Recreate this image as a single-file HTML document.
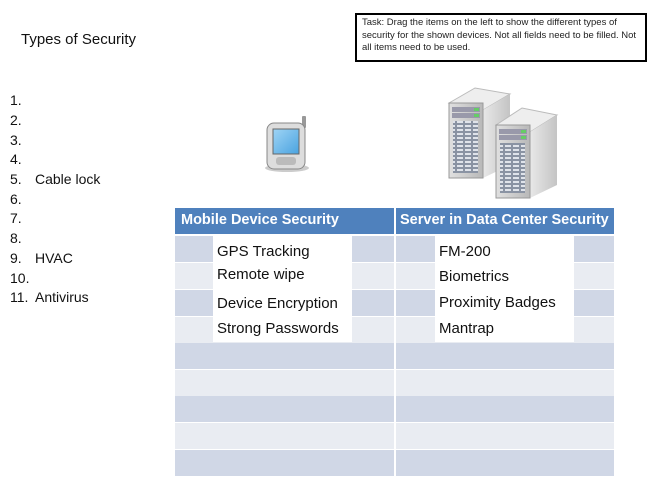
<!DOCTYPE html>
<html><head><meta charset="utf-8"><style>
body{margin:0;width:656px;height:492px;background:#fff;position:relative;overflow:hidden;font-family:"Liberation Sans",sans-serif}
.a{position:absolute}
.c{font-family:"Liberation Sans",sans-serif;color:#111}
.li{position:absolute;left:10px;font-size:14px;line-height:16px;color:#111}
.li span{position:absolute;left:25px;white-space:nowrap}
.r{position:absolute;height:26px}
.d{background:#d0d7e6}.l{background:#e9ecf2}
.t{position:absolute;font-size:15px;color:#111;white-space:nowrap;line-height:20px}
</style></head><body>
<div class="a c" style="left:21px;top:31px;font-size:15px">Types of Security</div>
<div class="li" style="top:92px">1.</div>
<div class="li" style="top:112px">2.</div>
<div class="li" style="top:132px">3.</div>
<div class="li" style="top:151px">4.</div>
<div class="li" style="top:171px">5.<span>Cable lock</span></div>
<div class="li" style="top:191px">6.</div>
<div class="li" style="top:210px">7.</div>
<div class="li" style="top:230px">8.</div>
<div class="li" style="top:250px">9.<span>HVAC</span></div>
<div class="li" style="top:270px">10.</div>
<div class="li" style="top:289px">11.<span>Antivirus</span></div>

<div class="a" style="left:355px;top:13px;width:281px;height:43px;border:2px solid #000;font-size:9.5px;line-height:12.5px;padding:2px 2px 0 5px;color:#222">Task: Drag the items on the left to show the different types of security for the shown devices. Not all fields need to be filled. Not all items need to be used.</div>

<svg class="a" style="left:0;top:0" width="656" height="492">
<defs><linearGradient id="sc" x1="0" y1="0" x2="1" y2="1"><stop offset="0" stop-color="#9fd4f5"/><stop offset="1" stop-color="#4aa3e0"/></linearGradient>
<linearGradient id="sf" x1="0" x2="1"><stop offset="0" stop-color="#e0e0e0"/><stop offset="1" stop-color="#b8b8b8"/></linearGradient>
<linearGradient id="ss" x1="0" x2="1"><stop offset="0" stop-color="#e8e8e8"/><stop offset="1" stop-color="#c4c4c4"/></linearGradient>
<pattern id="grid" width="8" height="4" patternUnits="userSpaceOnUse"><rect width="8" height="4" fill="#8a93a3"/><rect x="1" y="1" width="6" height="2" fill="#dfe3ea"/></pattern></defs>
<ellipse cx="287" cy="168" rx="22" ry="4" fill="#ccc"/>
<rect x="302" y="116" width="4" height="12" rx="1" fill="#999"/>
<rect x="267" y="123" width="38" height="46" rx="7" fill="#ddd" stroke="#888"/>
<rect x="273" y="129" width="26" height="25" fill="url(#sc)" stroke="#666"/>
<rect x="276" y="157" width="20" height="8" rx="3" fill="#bbb"/>
<!-- server 1 -->
<polygon points="449,103 475,88 510,94 483,110" fill="#eee" stroke="#bbb"/>
<polygon points="483,110 510,94 510,165 483,178" fill="url(#ss)"/>
<rect x="449" y="103" width="34" height="75" fill="url(#sf)" stroke="#999"/>
<rect x="452" y="107" width="28" height="5" fill="#99a"/><rect x="452" y="113" width="28" height="5" fill="#99a"/>
<rect x="474" y="108" width="5" height="3" fill="#6c6"/><rect x="474" y="114" width="5" height="3" fill="#6c6"/>
<rect x="453" y="121" width="25" height="52" fill="url(#grid)"/>
<!-- server 2 -->
<polygon points="496,125 522,108 557,115 530,132" fill="#eee" stroke="#bbb"/>
<polygon points="530,132 557,115 557,185 530,198" fill="url(#ss)"/>
<rect x="496" y="125" width="34" height="73" fill="url(#sf)" stroke="#999"/>
<rect x="499" y="129" width="28" height="5" fill="#99a"/><rect x="499" y="135" width="28" height="5" fill="#99a"/>
<rect x="521" y="130" width="5" height="3" fill="#6c6"/><rect x="521" y="136" width="5" height="3" fill="#6c6"/>
<rect x="500" y="143" width="25" height="50" fill="url(#grid)"/>
</svg>

<div class="a" style="left:175px;top:208px;width:219px;height:26px;background:#4f81bd"></div>
<div class="a" style="left:396px;top:208px;width:218px;height:26px;background:#4f81bd"></div>
<div class="a" style="left:181px;top:212px;color:#fff;font-weight:bold;font-size:14.5px">Mobile Device Security</div>
<div class="a" style="left:400px;top:212px;color:#fff;font-weight:bold;font-size:14.5px;white-space:nowrap">Server in Data Center Security</div>

<div class="r d" style="left:175px;top:236px;width:219px"></div><div class="r d" style="left:396px;top:236px;width:218px"></div>
<div class="r l" style="left:175px;top:263px;width:219px"></div><div class="r l" style="left:396px;top:263px;width:218px"></div>
<div class="r d" style="left:175px;top:290px;width:219px"></div><div class="r d" style="left:396px;top:290px;width:218px"></div>
<div class="r l" style="left:175px;top:317px;width:219px"></div><div class="r l" style="left:396px;top:317px;width:218px"></div>
<div class="r d" style="left:175px;top:343px;width:219px"></div><div class="r d" style="left:396px;top:343px;width:218px"></div>
<div class="r l" style="left:175px;top:370px;width:219px"></div><div class="r l" style="left:396px;top:370px;width:218px"></div>
<div class="r d" style="left:175px;top:396px;width:219px"></div><div class="r d" style="left:396px;top:396px;width:218px"></div>
<div class="r l" style="left:175px;top:423px;width:219px"></div><div class="r l" style="left:396px;top:423px;width:218px"></div>
<div class="r d" style="left:175px;top:450px;width:219px"></div><div class="r d" style="left:396px;top:450px;width:218px"></div>

<div class="a" style="left:213px;top:236px;width:139px;height:106px;background:#fff"></div>
<div class="a" style="left:435px;top:236px;width:139px;height:106px;background:#fff"></div>
<div class="t" style="left:217px;top:242px">GPS Tracking</div>
<div class="t" style="left:217px;top:265px">Remote wipe</div>
<div class="t" style="left:217px;top:294px">Device Encryption</div>
<div class="t" style="left:217px;top:319px">Strong Passwords</div>
<div class="t" style="left:439px;top:242px">FM-200</div>
<div class="t" style="left:439px;top:267px">Biometrics</div>
<div class="t" style="left:439px;top:293px">Proximity Badges</div>
<div class="t" style="left:439px;top:319px">Mantrap</div>
</body></html>
